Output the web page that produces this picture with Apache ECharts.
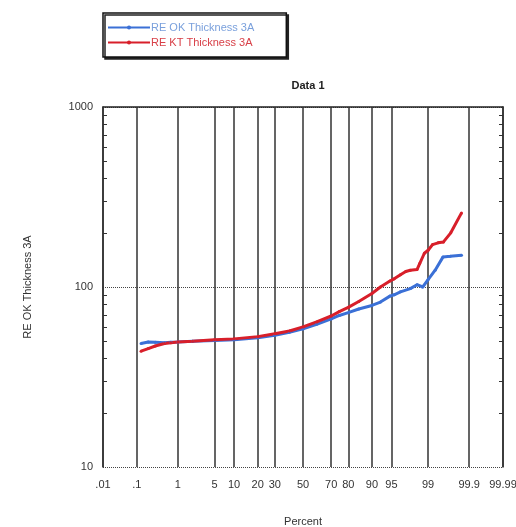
<!DOCTYPE html>
<html>
<head>
<meta charset="utf-8">
<script src="https://cdn.jsdelivr.net/npm/echarts@6/dist/echarts.min.js"></script>
<style>
  html, body { margin: 0; padding: 0; background: #fff; }
  #chart { width: 516px; height: 527px; }
</style>
</head>
<body>
<div id="chart"></div>
<script>
// probability-scale ticks (percent) and their labels
const tickPct = [0.01, 0.1, 1, 5, 10, 20, 30, 50, 70, 80, 90, 95, 99, 99.9, 99.99];
const tickLabels = [".01", ".1", "1", "5", "10", "20", "30", "50", "70", "80", "90", "95", "99", "99.9", "99.99"];
const yLabels = [10, 100, 1000];
const yMinor = [20, 30, 40, 50, 60, 70, 80, 90, 200, 300, 400, 500, 600, 700, 800, 900];

// RE OK Thickness 3A
const pctOK = [0.13, 0.2, 0.3, 0.5, 0.7, 1, 2, 5, 10, 20, 30, 40, 50, 60, 70, 75, 80, 85, 90, 92.5, 94.7, 95.5, 96.5, 97.7, 98.3, 98.7, 99, 99.3, 99.54, 99.69, 99.84];
const valOK = [48.5, 49.5, 49.3, 49, 49.3, 49.5, 50, 50.5, 51, 52.3, 54, 56, 58.5, 62, 66.5, 69.5, 72, 75.5, 79, 82.5, 89, 90.5, 94, 98, 103, 100, 110, 124, 147, 148, 150];

// RE KT Thickness 3A
const pctKT = [0.13, 0.2, 0.3, 0.5, 0.7, 1, 2, 5, 10, 20, 30, 40, 50, 60, 70, 75, 80, 85, 90, 92.5, 94.7, 95.5, 96.5, 97.2, 97.7, 98.3, 98.5, 98.8, 99, 99.2, 99.4, 99.55, 99.7, 99.84];
const valKT = [44, 45.5, 47, 48.5, 49, 49.5, 50, 51, 51.5, 53, 55, 57, 60, 64, 69, 73, 77, 83, 92, 100, 108, 111, 117, 122, 124, 125, 135, 154, 160, 172, 176, 178, 200, 258];

// inverse normal cdf (Acklam) -> probability axis
function probit(p) {
  const a = [-39.69683028665376, 220.9460984245205, -275.9285104469687, 138.3577518672690, -30.66479806614716, 2.506628277459239];
  const b = [-54.47609879822406, 161.5858368580409, -155.6989798598866, 66.80131188771972, -13.28068155288572];
  const c = [-0.007784894002430293, -0.3223964580411365, -2.400758277161838, -2.549732539343734, 4.374664141464968, 2.938163982698783];
  const d = [0.007784695709041462, 0.3224671290700398, 2.445134137142996, 3.754408661907416];
  const pl = 0.02425;
  let q, r;
  if (p < pl) {
    q = Math.sqrt(-2 * Math.log(p));
    return (((((c[0] * q + c[1]) * q + c[2]) * q + c[3]) * q + c[4]) * q + c[5]) / ((((d[0] * q + d[1]) * q + d[2]) * q + d[3]) * q + 1);
  }
  if (p > 1 - pl) {
    q = Math.sqrt(-2 * Math.log(1 - p));
    return -(((((c[0] * q + c[1]) * q + c[2]) * q + c[3]) * q + c[4]) * q + c[5]) / ((((d[0] * q + d[1]) * q + d[2]) * q + d[3]) * q + 1);
  }
  q = p - 0.5;
  r = q * q;
  return (((((a[0] * r + a[1]) * r + a[2]) * r + a[3]) * r + a[4]) * r + a[5]) * q / (((((b[0] * r + b[1]) * r + b[2]) * r + b[3]) * r + b[4]) * r + 1);
}

const zTicks = tickPct.map(p => probit(p / 100));
const zMin = zTicks[0];
const zMax = zTicks[zTicks.length - 1];

function pairs(pcts, vals) {
  return pcts.map((p, i) => [probit(p / 100), vals[i]]);
}

function tickLabel(v) {
  let best = 0;
  zTicks.forEach((z, i) => {
    if (Math.abs(z - v) < Math.abs(zTicks[best] - v)) best = i;
  });
  return tickLabels[best];
}

const font = "'Liberation Sans', Arial, sans-serif";
const myChart = echarts.init(document.getElementById("chart"));

// log axis with only minor ticks, used for the left and right frame
function minorAxis(position) {
  return {
    type: "log",
    logBase: 10,
    min: 10,
    max: 1000,
    position: position,
    axisLine: { show: position === "right", onZero: false, lineStyle: { color: "#222", width: 1.5 } },
    axisTick: {
      customValues: yMinor,
      inside: true,
      length: 4,
      lineStyle: { color: "#333" },
    },
    axisLabel: { show: false },
    splitLine: { show: false },
  };
}

myChart.setOption({
  animation: false,
  textStyle: { fontFamily: font },
  title: {
    text: "Data 1",
    left: 303,
    top: 75,
    textAlign: "center",
    textStyle: { fontSize: 11, fontWeight: "bold", color: "#222", fontFamily: font },
  },
  legend: {
    left: 103,
    top: 13,
    orient: "vertical",
    itemGap: 4,
    itemWidth: 42,
    itemHeight: 5,
    padding: [9, 32, 9, 4],
    backgroundColor: "#fff",
    borderColor: "#111",
    borderWidth: 1.5,
    shadowColor: "#222",
    shadowBlur: 0,
    shadowOffsetX: 2,
    shadowOffsetY: 2,
    textStyle: { fontSize: 11, fontFamily: font, padding: [0, 0, 0, -4] },
    data: [
      { name: "RE OK Thickness 3A", textStyle: { color: "#7aa0dc" } },
      { name: "RE KT Thickness 3A", textStyle: { color: "#d84048" } },
    ],
  },
  grid: { left: 103, right: 13, top: 107, bottom: 60, outerBoundsMode: "none" },
  xAxis: [
    {
      type: "value",
      min: zMin,
      max: zMax,
      name: "Percent",
      nameLocation: "middle",
      nameGap: 49,
      nameTextStyle: { fontSize: 11, color: "#333" },
      axisLine: { show: false, onZero: false },
      splitLine: { show: false },
      axisTick: {
        customValues: zTicks,
        inside: true,
        length: 360,
        lineStyle: { color: "#333", width: 1.5 },
      },
      axisLabel: {
        customValues: zTicks,
        formatter: tickLabel,
        fontSize: 11,
        color: "#333",
        margin: 12,
      },
    },
    {
      type: "value",
      position: "top",
      min: zMin,
      max: zMax,
      axisLine: { show: true, onZero: false, lineStyle: { color: "#222", width: 1.5 } },
      axisTick: { show: false },
      axisLabel: { show: false },
      splitLine: { show: false },
    },
  ],
  yAxis: [
    {
      type: "log",
      logBase: 10,
      min: 10,
      max: 1000,
      name: "RE OK Thickness 3A",
      nameLocation: "middle",
      nameGap: 70,
      nameTextStyle: { fontSize: 11, color: "#333" },
      axisLine: { show: true, onZero: false, lineStyle: { color: "#222", width: 1.5 } },
      axisTick: { show: false },
      axisLabel: {
        customValues: yLabels,
        formatter: v => String(Math.round(v)),
        fontSize: 11,
        color: "#333",
        margin: 10,
      },
      splitLine: { show: true, lineStyle: { type: "dotted", color: "#444", width: 1 } },
    },
    minorAxis("right"),
    minorAxis("left"),
  ],
  series: [
    {
      name: "RE OK Thickness 3A",
      type: "line",
      data: pairs(pctOK, valOK),
      color: "#3b70d6",
      symbol: "circle",
      symbolSize: 3,
      lineStyle: { width: 3, color: "#3b70d6" },
    },
    {
      name: "RE KT Thickness 3A",
      type: "line",
      data: pairs(pctKT, valKT),
      color: "#d81f2a",
      symbol: "circle",
      symbolSize: 3,
      lineStyle: { width: 3, color: "#d81f2a" },
    },
  ],
});

window.addEventListener("resize", () => {
  myChart.resize();
});
</script>
</body>
</html>
